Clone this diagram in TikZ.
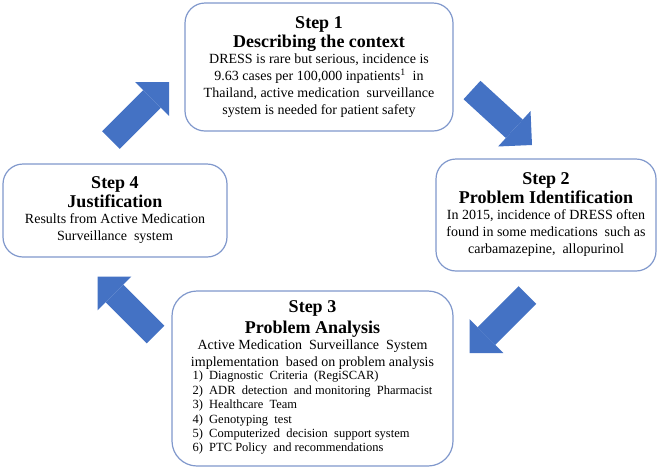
\documentclass[tikz,border=0pt]{standalone}
\usepackage{fontspec}
\setmainfont{Liberation Serif}
\usetikzlibrary{arrows.meta, positioning}
\definecolor{boxline}{RGB}{128,152,204}
\definecolor{flowblue}{RGB}{68,114,196}
\newcommand{\steptitle}[1]{{\bfseries\fontsize{18}{20}\selectfont #1}}

\begin{document}
\begin{tikzpicture}[
    x=1pt, y=-1pt,
    stepbox/.style={rectangle, rounded corners=20pt, draw=boxline, line width=1.2pt, fill=white, align=center, font=\fontsize{14}{17}\selectfont, inner sep=0pt},
    flow/.style={draw=flowblue, line width=25pt, -{Triangle[width=48pt, length=24pt, line width=0pt]}}
]
    \useasboundingbox (0,0) rectangle (659,467);
    % the four steps
    \node[stepbox, minimum width=268pt, minimum height=128pt] (step1) at (319,67) {\steptitle{Step 1}\\[2pt] \steptitle{Describing the context}\\[-1pt] DRESS is rare but serious, incidence is\\ 9.63 cases per 100,000 inpatients\textsuperscript{1}\ \ in\\ Thailand, active medication\ \ surveillance\\ system is needed for patient safety};
    \node[stepbox, minimum width=220pt, minimum height=112pt] (step2) at (546,215) {\steptitle{Step 2}\\[2pt] \steptitle{Problem Identification}\\[-1pt] In 2015, incidence of DRESS often\\ found in some medications\ \ such as\\ carbamazepine,\ \ allopurinol};
    \node[stepbox, rounded corners=25pt, minimum width=281pt, minimum height=175pt] (step3) at (312.5,378.5) {\steptitle{Step 3}\\[4pt] \steptitle{Problem Analysis}\\[-1pt] Active Medication\ \ Surveillance\ \ System\\ implementation\ \ based on problem analysis\\[-1pt]
        {\fontsize{12.5}{14.4}\selectfont\begin{tabular}{@{}l@{\ \ }l@{}}
        1) & Diagnostic\ \ Criteria\ \ (RegiSCAR)\\
        2) & ADR\ \ detection\ \ and monitoring\ \ Pharmacist\\
        3) & Healthcare\ \ Team\\
        4) & Genotyping\ \ test\\
        5) & Computerized\ \ decision\ \ support system\\
        6) & PTC Policy\ \ and recommendations\\
        \end{tabular}\hspace{14pt}}};
    \node[stepbox, minimum width=224pt, minimum height=93pt] (step4) at (115,210.5) {\steptitle{Step 4}\\[2pt] \steptitle{Justification}\\[-1pt] Results from Active Medication\\ Surveillance\ \ system};
    % block arrows between the steps
    \coordinate (a1s) at (111,140);
    \coordinate (a1e) at (169,82);
    \coordinate (a2s) at (472,90);
    \coordinate (a2e) at (532,145);
    \coordinate (a3s) at (527.5,295);
    \coordinate (a3e) at (469.5,353);
    \coordinate (a4s) at (155.5,334.5);
    \coordinate (a4e) at (97.5,276.5);
    \draw[flow] (a1s) -- (a1e);
    \draw[flow] (a2s) -- (a2e);
    \draw[flow] (a3s) -- (a3e);
    \draw[flow] (a4s) -- (a4e);
\end{tikzpicture}
\end{document}
